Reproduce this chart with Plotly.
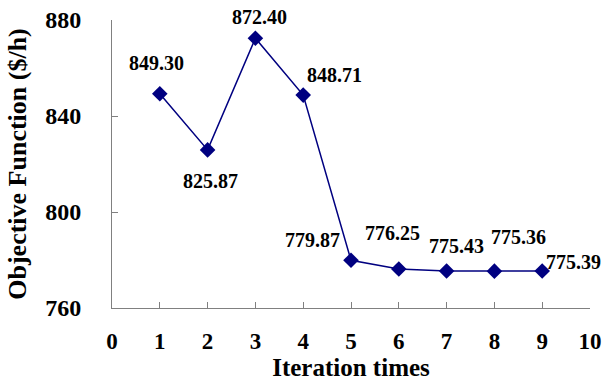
import plotly.graph_objects as go

iterations = [1, 2, 3, 4, 5, 6, 7, 8, 9]
objective = [849.30, 825.87, 872.40, 848.71, 779.87, 776.25, 775.43, 775.36, 775.39]
value_labels = ["849.30", "825.87", "872.40", "848.71", "779.87", "776.25", "775.43", "775.36", "775.39"]
label_dx = [-3, 3, 4, 31, -39, -6, 10, 24, 31]
label_dy = [31, -31, 21, 20, 20, 36, 25, 34, 9]

x_ticks = list(range(0, 11))
y_ticks = [760, 800, 840, 880]

FONT = "Liberation Serif"

fig = go.Figure()
fig.add_trace(go.Scatter(
    x=iterations, y=objective, mode="lines+markers",
    line=dict(color="#000080", width=1.5),
    marker=dict(symbol="diamond", size=12, color="#000080"),
    cliponaxis=False, showlegend=False,
))

for xv, yv, txt, dx, dy in zip(iterations, objective, value_labels, label_dx, label_dy):
    fig.add_annotation(x=xv, y=yv, text=txt, showarrow=False,
                       xshift=dx, yshift=dy,
                       font=dict(family=FONT, size=20, color="black", weight="bold"))

fig.update_layout(
    width=603, height=381,
    margin=dict(l=112, r=13, t=20, b=73, autoexpand=False),
    paper_bgcolor="white", plot_bgcolor="white",
)
fig.update_xaxes(
    range=[0, 10], tickvals=x_ticks, ticktext=[str(v) for v in x_ticks],
    automargin=False,
    showgrid=False, zeroline=False, showline=True, linecolor="#808080", linewidth=1,
    ticks="inside", ticklen=6, tickcolor="#808080",
    ticklabelstandoff=12,
    tickfont=dict(family=FONT, size=23, color="black", weight="bold"),
    title=dict(text="Iteration times", standoff=16,
               font=dict(family=FONT, size=25, color="black", weight="bold")),
)
fig.update_yaxes(
    range=[760, 880], tickvals=y_ticks, ticktext=[str(v) for v in y_ticks],
    automargin=False,
    showgrid=False, zeroline=False, showline=True, linecolor="#808080", linewidth=1,
    ticks="inside", ticklen=6, tickcolor="#808080",
    ticklabelstandoff=25,
    tickfont=dict(family=FONT, size=24, color="black", weight="bold"),
    title=dict(text="Objective Function ($/h)", standoff=11,
               font=dict(family=FONT, size=26, color="black", weight="bold")),
)

fig.write_html(
    "out.html",
    config={"displayModeBar": False},
    post_script="document.body.style.margin='0px';document.body.style.overflow='hidden';",
)
